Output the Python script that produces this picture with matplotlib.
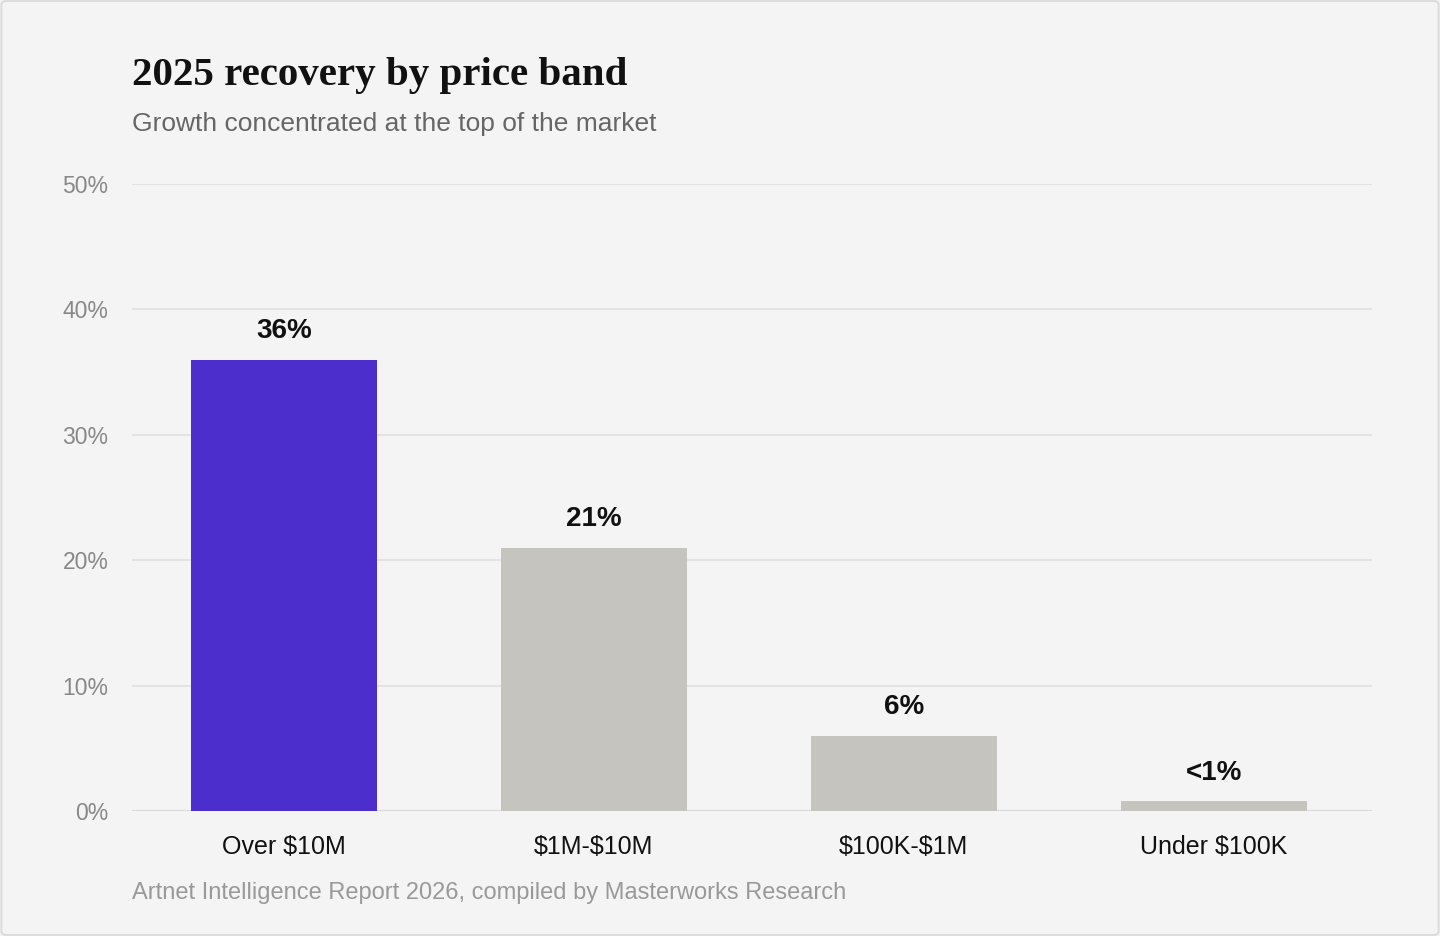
import matplotlib.pyplot as plt
from matplotlib.patches import FancyBboxPatch

categories = ["Over \\$10M", "\\$1M-\\$10M", "\\$100K-\\$1M", "Under \\$100K"]
growth = [36, 21, 6, 0.8]
value_labels = ["36%", "21%", "6%", "<1%"]
yticks = [0, 10, 20, 30, 40, 50]

bg = "#f4f4f4"
colors = ["#4b2ecb", "#c5c4bf", "#c5c4bf", "#c5c4bf"]

fig = plt.figure(figsize=(14.4, 9.36), dpi=100, facecolor=bg)
ax = fig.add_axes([132 / 1440, 1 - 811 / 936, 1240 / 1440, 627 / 936])
ax.set_facecolor(bg)

# border round the card
fig.patches.append(FancyBboxPatch((0.001, 0.001), 0.998, 0.998, boxstyle="round,pad=0,rounding_size=0.004",
                                  transform=fig.transFigure, facecolor="none", edgecolor="#dcdcdc", lw=1.5))

x = range(len(categories))
ax.bar(x, growth, width=0.6, color=colors, zorder=3)
for i, (v, lab) in enumerate(zip(growth, value_labels)):
    ax.annotate(lab, (i, v), xytext=(0, 11), textcoords="offset points", ha="center", va="bottom",
                fontsize=20, fontweight="bold", color="#111111", family="Liberation Sans")

ax.set_xlim(-0.49, 3.51)
ax.set_ylim(0, 50)
ax.set_yticks(yticks)
ax.set_yticklabels([f"{t}%" for t in yticks], fontsize=16.5, color="#888888", family="Liberation Sans")
ax.set_xticks(list(x))
ax.set_xticklabels(categories, fontsize=18, color="#111111", family="Liberation Sans")
ax.tick_params(axis="both", length=0)
ax.tick_params(axis="y", pad=17)
ax.tick_params(axis="x", pad=17)
ax.grid(axis="y", color="#e2e2e2", lw=1.3, zorder=0)
for s in ax.spines.values():
    s.set_visible(False)
ax.axhline(0, color="#d9d9d9", lw=1.5, zorder=2)

fig.text(132 / 1440, 1 - 76 / 936, "2025 recovery by price band", fontsize=29.5, fontweight="bold",
         family="Liberation Serif", color="#111111", va="center")
fig.text(132 / 1440, 1 - 124 / 936, "Growth concentrated at the top of the market", fontsize=19,
         family="Liberation Sans", color="#666666", va="center")
fig.text(132 / 1440, 1 - 893 / 936, "Artnet Intelligence Report 2026, compiled by Masterworks Research",
         fontsize=17, family="Liberation Sans", color="#999999", va="center")

fig.savefig("out.png", dpi=100, facecolor=bg)
